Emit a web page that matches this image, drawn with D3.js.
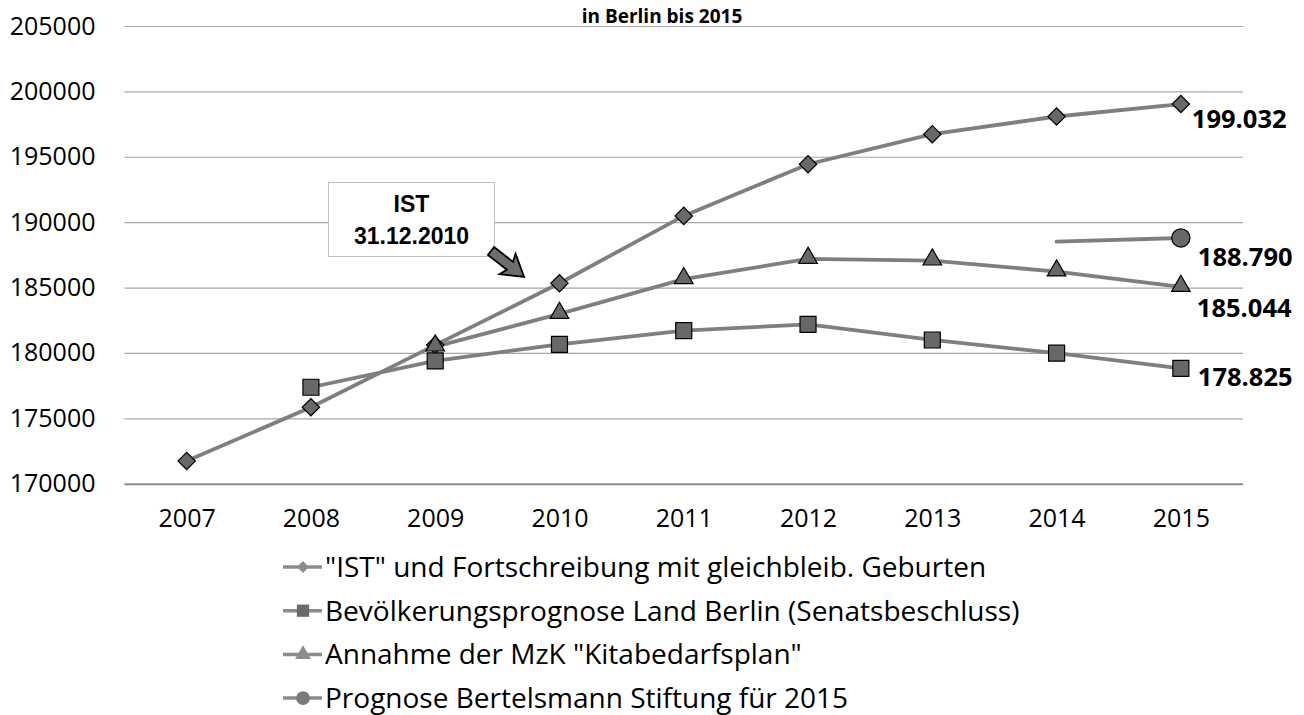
<!DOCTYPE html>
<html>
<head>
<meta charset="utf-8">
<script src="https://cdn.jsdelivr.net/npm/d3@7"></script>
<style>
  body { margin: 0; background: #fff; }
  svg { display: block; }
  .tick text { font-family: "Open Sans", sans-serif; font-size: 25px; fill: #000; }
</style>
</head>
<body>
<script>
const years = ['2007', '2008', '2009', '2010', '2011', '2012', '2013', '2014', '2015'];
const yTicks = [170000, 175000, 180000, 185000, 190000, 195000, 200000, 205000];

const istValues = [171740, 175850, 180600, 185330, 190480, 194430, 196730, 198080, 199032];
const senatValues = [null, 177375, 179390, 180660, 181700, 182190, 180990, 179980, 178825];
const kitaValues = [null, null, 180480, 182980, 185640, 187190, 187060, 186220, 185044];
const bertelsmannValues = [null, null, null, null, null, null, null, 188510, 188790];
const bertelsmannMarkers = [false, false, false, false, false, false, false, false, true];

const seriesNames = [
  '"IST" und Fortschreibung mit gleichbleib. Geburten',
  'Bevölkerungsprognose Land Berlin (Senatsbeschluss)',
  'Annahme der MzK "Kitabedarfsplan"',
  'Prognose Bertelsmann Stiftung für 2015'
];

const title = 'in Berlin bis 2015';
const calloutLines = ['IST', '31.12.2010'];

const w = 1304;
const h = 715;
const plotLeft = 124.5;
const plotRight = 1243;
const plotTop = 26;
const plotBottom = 483.7;

const de = d3.formatLocale({ decimal: ',', thousands: '.', grouping: [3], currency: ['', ' €'] });
const fmt = de.format(',');

const svg = d3.select('body')
  .append('svg')
    .attr('width', w)
    .attr('height', h);

const x = d3.scalePoint()
  .domain(years)
  .range([plotLeft, plotRight])
  .padding(0.5);

const y = d3.scaleLinear()
  .domain([170000, 205000])
  .range([plotBottom, plotTop]);

// gridlines + y labels
const yAxis = d3.axisLeft(y)
  .tickValues(yTicks)
  .tickFormat(d3.format('d'))
  .tickSize(-(plotRight - plotLeft))
  .tickPadding(29);

const gy = svg.append('g')
  .attr('transform', `translate(${plotLeft},0)`)
  .call(yAxis);
gy.select('.domain').remove();
gy.selectAll('.tick line')
  .attr('stroke', d => d === 170000 ? '#8c8c8c' : '#a6a6a6')
  .attr('stroke-width', d => d === 170000 ? 2 : 1.2);

// x labels
const xAxis = d3.axisBottom(x).tickSize(0).tickPadding(26);
const gx = svg.append('g')
  .attr('transform', `translate(0,${plotBottom})`)
  .call(xAxis);
gx.select('.domain').remove();

const series = [
  { values: istValues, shape: 'diamond', marker: () => true },
  { values: senatValues, shape: 'square', marker: () => true },
  { values: kitaValues, shape: 'triangle', marker: () => true },
  { values: bertelsmannValues, shape: 'circle', marker: (d, i) => bertelsmannMarkers[i] }
];

const symbolFor = {
  diamond: d3.symbol(d3.symbolSquare, 150)(),
  square: d3.symbol(d3.symbolSquare, 256)(),
  triangle: d3.symbol(d3.symbolTriangle, 150)(),
  circle: d3.symbol(d3.symbolCircle, 260)()
};

const line = d3.line()
  .defined(d => d.v != null)
  .x(d => x(d.year))
  .y(d => y(d.v));

series.forEach(s => {
  const pts = s.values.map((v, i) => ({ year: years[i], v, i }));
  svg.append('path')
    .datum(pts)
    .attr('fill', 'none')
    .attr('stroke', '#7f7f7f')
    .attr('stroke-width', 3.8)
    .attr('stroke-linecap', 'round')
    .attr('d', line);
  s.points = pts;
});

series.forEach(s => {
  svg.selectAll(null)
    .data(s.points.filter(d => d.v != null && s.marker(d, d.i)))
    .enter()
    .append('path')
      .attr('d', symbolFor[s.shape])
      .attr('transform', d => {
        const rot = s.shape === 'diamond' ? ' rotate(45)' : '';
        const dy = s.shape === 'triangle' ? -1 : 0;
        return `translate(${x(d.year)},${y(d.v) + dy})${rot}`;
      })
      .attr('fill', '#686868')
      .attr('stroke', '#000')
      .attr('stroke-width', 1.2);
});

// end value labels
const labelOffsets = [[11, 15], [17, 9], [16, 21], [17, 19]];
series.forEach((s, k) => {
  const last = s.points[s.points.length - 1];
  svg.append('text')
    .attr('x', x(last.year) + labelOffsets[k][0])
    .attr('y', y(last.v) + labelOffsets[k][1])
    .attr('dy', '0.36em')
    .attr('font-family', '"Open Sans", sans-serif')
    .attr('font-weight', 'bold')
    .attr('font-size', 25.5)
    .text(fmt(last.v));
});

// title, kept fully visible above the top gridline
svg.append('text')
  .attr('x', 662)
  .attr('y', 23)
  .attr('text-anchor', 'middle')
  .attr('font-family', '"Open Sans", sans-serif')
  .attr('font-weight', 'bold')
  .attr('font-size', 19)
  .text(title);

// callout
svg.append('rect')
  .attr('x', 328.5)
  .attr('y', 182.5)
  .attr('width', 166)
  .attr('height', 74)
  .attr('fill', '#fff')
  .attr('stroke', '#bfbfbf');

svg.selectAll(null)
  .data(calloutLines)
  .enter()
  .append('text')
    .attr('x', 411.5)
    .attr('y', (d, i) => 212 + i * 32)
    .attr('text-anchor', 'middle')
    .attr('font-family', '"Liberation Sans", Arial, sans-serif')
    .attr('font-weight', 'bold')
    .attr('font-size', 23)
    .text(d => d);

// block arrow
svg.append('path')
  .attr('d', 'M0,-5 L24,-5 L21,-13 L42,0 L21,13 L24,5 L0,5 Z')
  .attr('transform', 'translate(491,251) rotate(38)')
  .attr('fill', '#6e6e6e')
  .attr('stroke', '#000')
  .attr('stroke-width', 1.8)
  .attr('stroke-linejoin', 'miter');

// legend
const legendFill = ['#8c8c8c', '#6a6a6a', '#8c8c8c', '#7a7a7a'];
const legendSymbols = {
  diamond: d3.symbol(d3.symbolSquare, 70)(),
  square: d3.symbol(d3.symbolSquare, 150)(),
  triangle: d3.symbol(d3.symbolTriangle, 110)(),
  circle: d3.symbol(d3.symbolCircle, 150)()
};

const legend = svg.append('g')
  .selectAll('g')
  .data(series)
  .enter()
  .append('g')
    .attr('transform', (d, i) => `translate(283,${567 + i * 43.7})`);

legend.append('line')
  .attr('x1', 0)
  .attr('x2', 39)
  .attr('stroke', '#8c8c8c')
  .attr('stroke-width', 3.5);

legend.append('path')
  .attr('d', d => legendSymbols[d.shape])
  .attr('transform', d => `translate(20,0)${d.shape === 'diamond' ? ' rotate(45)' : ''}`)
  .attr('fill', (d, i) => legendFill[i]);

legend.append('text')
  .attr('x', 42)
  .attr('dy', '0.36em')
  .attr('font-family', '"Open Sans", sans-serif')
  .attr('font-size', 28)
  .text((d, i) => seriesNames[i]);
</script>
</body>
</html>
